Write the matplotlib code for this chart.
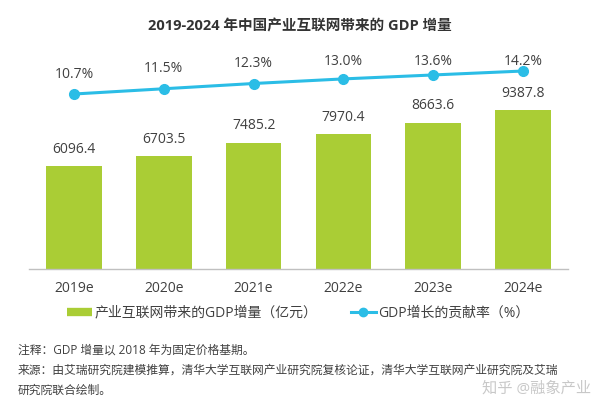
import numpy as np
import matplotlib
matplotlib.use("Agg")
import matplotlib.pyplot as plt
from matplotlib.lines import Line2D

plt.rcParams['font.family'] = ['Open Sans', 'Noto Sans CJK SC', 'DejaVu Sans']

years = ['2019e', '2020e', '2021e', '2022e', '2023e', '2024e']
gdp_add = [6096.4, 6703.5, 7485.2, 7970.4, 8663.6, 9387.8]
rate = [10.7, 11.5, 12.3, 13.0, 13.6, 14.2]

title = '2019-2024 年中国产业互联网带来的 GDP 增量'
bar_name = '产业互联网带来的GDP增量（亿元）'
line_name = 'GDP增长的贡献率（%）'
note1 = '注释：GDP 增量以 2018 年为固定价格基期。'
note2 = '来源：由艾瑞研究院建模推算，清华大学互联网产业研究院复核论证，清华大学互联网产业研究院及艾瑞'
note3 = '研究院联合绘制。'
mark = '知乎 @融象产业'

green = '#aacd35'
blue = '#2bbde6'
txt = '#404040'

fig = plt.figure(figsize=(6, 4), dpi=100)
ax = fig.add_axes([29/600, 131/400, 539/600, 224/400])
x = np.arange(len(years))

ax.bar(x, gdp_add, width=0.62, color=green, zorder=2)
ax.set_xlim(-0.5, 5.5)
ax.set_ylim(0, 13255)
for i, v in enumerate(gdp_add):
    ax.annotate(f'{v:.1f}', (i, v), xytext=(0, 12), textcoords='offset points',
                ha='center', va='center', fontsize=10, color=txt)

ax.set_xticks(x)
ax.set_xticklabels(years, fontsize=10, color=txt)
ax.tick_params(axis='x', length=0, pad=9)
ax.set_yticks([])
for s in ['top', 'right', 'left']:
    ax.spines[s].set_visible(False)
ax.spines['bottom'].set_color('#c0c0c0')
ax.spines['bottom'].set_linewidth(1)

# 贡献率折线用右侧隐藏坐标轴
ax2 = ax.twinx()
ax2.set_ylim(-15.93, 18.16)
ax2.plot(x, rate, color=blue, lw=2.2, marker='o', markersize=7, zorder=3)
ax2.set_yticks([])
ax2.axis('off')
lab_y = np.minimum(np.array(rate) + 3.04, 15.72)
for i, v in enumerate(rate):
    ax2.text(i, lab_y[i], f'{v:.1f}%', ha='center', va='center', fontsize=10, color=txt)

fig.text(0.5, 1 - 26/400, title, ha='center', va='center', fontsize=10.5,
         fontweight='bold', color='#333333')

handles = [Line2D([], [], color=green, lw=6, solid_capstyle='butt'),
           Line2D([], [], color=blue, lw=2.2, marker='o', markersize=6)]
fig.legend(handles, [bar_name, line_name], loc='center', bbox_to_anchor=(0.497, 1 - 313/400),
           ncol=2, frameon=False, fontsize=10, handlelength=1.8, handletextpad=0.2,
           columnspacing=2.4, labelcolor=txt)

fig.text(0.03, 1 - 350/400, note1, ha='left', va='center', fontsize=8.5, color=txt)
fig.text(0.03, 1 - 370/400, note2, ha='left', va='center', fontsize=8.5, color=txt)
fig.text(0.03, 1 - 390/400, note3, ha='left', va='center', fontsize=8.5, color=txt)
fig.text(0.985, 1 - 389/400, mark, ha='right', va='center', fontsize=11,
         color='#bbbbbb', alpha=0.8)

fig.savefig('out.png', dpi=100)
